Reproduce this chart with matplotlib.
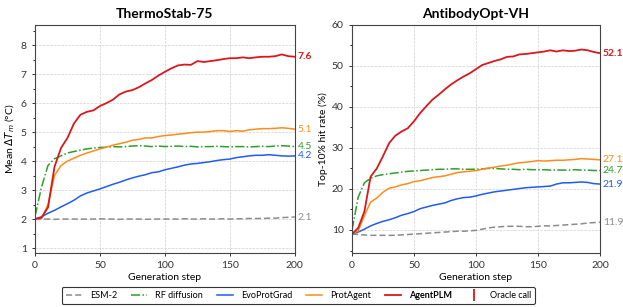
#!/usr/bin/env python3
# Two-panel optimisation curves: ThermoStab-75 and AntibodyOpt-VH

import numpy as np
import matplotlib
matplotlib.use("Agg")
import matplotlib.pyplot as plt
from matplotlib.lines import Line2D
from matplotlib.ticker import AutoMinorLocator

plt.rcParams['font.family'] = ['Lato', 'DejaVu Sans']

steps = np.arange(0, 201, 5)

# ThermoStab-75, mean delta Tm (C)
thermo_esm = [2.0, 2.0, 2.0, 1.99, 2.0, 2.0, 2.0, 2.0, 2.0, 2.0, 2.01, 2.0, 2.0, 1.99, 2.0, 2.0, 2.0, 1.99,
              2.0, 2.0, 2.0, 2.0, 2.0, 2.01, 2.0, 2.0, 2.01, 2.0, 2.0, 2.01, 2.0, 2.01, 2.01, 2.02, 2.02, 2.02,
              2.03, 2.03, 2.05, 2.06, 2.07]
thermo_rf = [2.1, 3.1, 3.85, 4.08, 4.18, 4.28, 4.33, 4.38, 4.42, 4.45, 4.47, 4.48, 4.5, 4.49, 4.5, 4.52,
             4.53, 4.52, 4.5, 4.52, 4.5, 4.51, 4.52, 4.5, 4.51, 4.49, 4.5, 4.5, 4.51, 4.5, 4.49, 4.5, 4.5,
             4.49, 4.5, 4.51, 4.5, 4.52, 4.53, 4.52, 4.5]
thermo_evo = [2.0, 2.08, 2.2, 2.3, 2.42, 2.53, 2.65, 2.8, 2.9, 2.97, 3.04, 3.12, 3.2, 3.27, 3.35, 3.42,
              3.48, 3.53, 3.6, 3.63, 3.7, 3.75, 3.8, 3.86, 3.9, 3.92, 3.95, 3.98, 4.02, 4.05, 4.07, 4.12,
              4.15, 4.18, 4.2, 4.2, 4.22, 4.2, 4.18, 4.17, 4.18]
thermo_prot = [2.0, 2.02, 2.5, 3.5, 3.85, 4.0, 4.1, 4.2, 4.28, 4.35, 4.42, 4.48, 4.55, 4.6, 4.65, 4.72,
               4.75, 4.8, 4.8, 4.85, 4.88, 4.9, 4.93, 4.95, 4.98, 5.0, 5.0, 5.02, 5.05, 5.05, 5.02, 5.05,
               5.03, 5.08, 5.1, 5.12, 5.12, 5.13, 5.15, 5.13, 5.1]
thermo_agent = [2.0, 2.05, 2.4, 3.8, 4.45, 4.8, 5.3, 5.6, 5.7, 5.75, 5.9, 6.0, 6.12, 6.3, 6.4, 6.45, 6.55,
                6.68, 6.8, 6.95, 7.08, 7.2, 7.3, 7.33, 7.32, 7.45, 7.42, 7.45, 7.48, 7.52, 7.55, 7.55, 7.58,
                7.55, 7.58, 7.6, 7.6, 7.62, 7.68, 7.62, 7.6]
thermo_end = ['2.1', '4.5', '4.2', '5.1', '7.6']

# AntibodyOpt-VH, top-10% hit rate (%)
anti_esm = [9.0, 8.9, 8.8, 8.7, 8.7, 8.7, 8.7, 8.7, 8.8, 8.9, 9.0, 9.1, 9.2, 9.3, 9.4, 9.5, 9.6, 9.7,
            9.7, 9.8, 9.9, 10.2, 10.5, 10.7, 10.8, 10.9, 10.9, 10.9, 10.8, 10.8, 10.9, 11.0, 11.0, 11.1,
            11.2, 11.3, 11.4, 11.5, 11.7, 11.8, 11.9]
anti_rf = [10.0, 18.0, 21.5, 22.6, 23.2, 23.5, 23.7, 23.9, 24.1, 24.3, 24.4, 24.5, 24.6, 24.7, 24.8, 24.8,
           24.9, 24.9, 24.8, 24.8, 24.8, 24.9, 25.0, 25.0, 24.9, 24.8, 24.8, 24.7, 24.8, 24.7, 24.7, 24.7,
           24.6, 24.6, 24.6, 24.6, 24.7, 24.6, 24.6, 24.5, 24.5]
anti_evo = [9.0, 9.5, 10.2, 11.0, 11.6, 12.1, 12.5, 13.0, 13.6, 14.0, 14.5, 15.2, 15.6, 16.0, 16.3, 16.6,
            17.2, 17.6, 17.9, 18.0, 18.3, 18.7, 19.0, 19.3, 19.5, 19.7, 19.9, 20.1, 20.3, 20.4, 20.5, 20.6,
            20.7, 21.2, 21.5, 21.5, 21.6, 21.7, 21.6, 21.3, 21.2]
anti_prot = [9.0, 9.8, 13.5, 16.8, 17.8, 19.2, 20.2, 20.5, 21.0, 21.3, 21.8, 22.0, 22.4, 22.8, 23.0, 23.2,
             23.6, 24.0, 24.2, 24.3, 24.5, 24.8, 25.1, 25.3, 25.6, 25.8, 26.1, 26.4, 26.5, 26.7, 26.9, 26.8,
             26.9, 27.0, 27.0, 27.1, 27.2, 27.4, 27.3, 27.2, 27.1]
anti_agent = [9.0, 10.5, 14.5, 23.0, 25.0, 28.0, 31.2, 33.0, 34.0, 34.8, 36.5, 38.5, 40.2, 41.8, 43.0,
              44.3, 45.5, 46.5, 47.4, 48.2, 49.2, 50.2, 50.7, 51.2, 51.6, 52.2, 52.3, 52.8, 52.9, 53.1, 53.3,
              53.5, 53.8, 53.5, 53.8, 53.6, 53.7, 54.0, 53.8, 53.4, 53.1]
anti_end = ['11.9', '24.7', '21.9', '27.1', '52.1']

methods = ['ESM-2', 'RF diffusion', 'EvoProtGrad', 'ProtAgent', 'AgentPLM']
colors = ['#8c8c8c', '#2ca02c', '#1f5cf0', '#ff8c1a', '#d7191c']
styles = [(0, (4, 2)), (0, (6, 1.5, 1, 1.5)), '-', '-', '-']
widths = [1.1, 1.1, 1.1, 1.1, 1.3]


def panel(ax, series, ends, title, ylabel, ylim, yticks):
    for y, c, ls, lw, lab in zip(series, colors, styles, widths, ends):
        ax.plot(steps, y, color=c, ls=ls, lw=lw)
        ax.text(1.012, y[-1], lab, color=c, fontsize=7.5,
                transform=ax.get_yaxis_transform(), va='center', ha='left',
                fontweight='bold' if c == colors[-1] else 'normal')
    ax.set_xlim(0, 200)
    ax.set_ylim(*ylim)
    ax.set_xticks([0, 50, 100, 150, 200])
    ax.set_yticks(yticks)
    ax.yaxis.set_minor_locator(AutoMinorLocator(2))
    ax.grid(True, ls='--', lw=0.5, color='#d0d0d0')
    ax.set_axisbelow(True)
    ax.tick_params(labelsize=7.5, length=2.5, width=0.7, colors='#333333')
    ax.tick_params(which='minor', length=1.5, width=0.6)
    for s in ax.spines.values():
        s.set_color('#444444')
        s.set_linewidth(0.8)
    ax.set_title(title, fontsize=10, fontweight='bold', pad=5)
    ax.set_xlabel('Generation step', fontsize=7.5, labelpad=2)
    ax.set_ylabel(ylabel, fontsize=7.5, labelpad=3)


fig = plt.figure(figsize=(6.23, 3.07), dpi=100)
ax1 = fig.add_axes([0.0562, 0.176, 0.417, 0.743])
ax2 = fig.add_axes([0.565, 0.176, 0.398, 0.743])

panel(ax1, [thermo_esm, thermo_rf, thermo_evo, thermo_prot, thermo_agent], thermo_end,
      'ThermoStab-75', r'Mean $\Delta T_m$ (°C)', (0.83, 8.7), [1, 2, 3, 4, 5, 6, 7, 8])
panel(ax2, [anti_esm, anti_rf, anti_evo, anti_prot, anti_agent], anti_end,
      'AntibodyOpt-VH', 'Top-10% hit rate (%)', (4.4, 60), [10, 20, 30, 40, 50, 60])

handles = [Line2D([], [], color=c, ls=ls, lw=lw) for c, ls, lw in zip(colors, styles, widths)]
handles.append(Line2D([], [], color=colors[-1], ls='none', marker='|', markersize=9, mew=1.3))
labels = methods + ['Oracle call']
leg = fig.legend(handles, labels, loc='lower center', bbox_to_anchor=(0.479, -0.005), ncol=6,
                 fontsize=6.5, frameon=True, edgecolor='#333333', framealpha=1,
                 handlelength=1.8, handletextpad=0.9, columnspacing=1.5, borderpad=0.45)
leg.get_frame().set_linewidth(0.8)
leg.get_texts()[4].set_fontweight('bold')

plt.savefig('out.png', dpi=100)
plt.close()
